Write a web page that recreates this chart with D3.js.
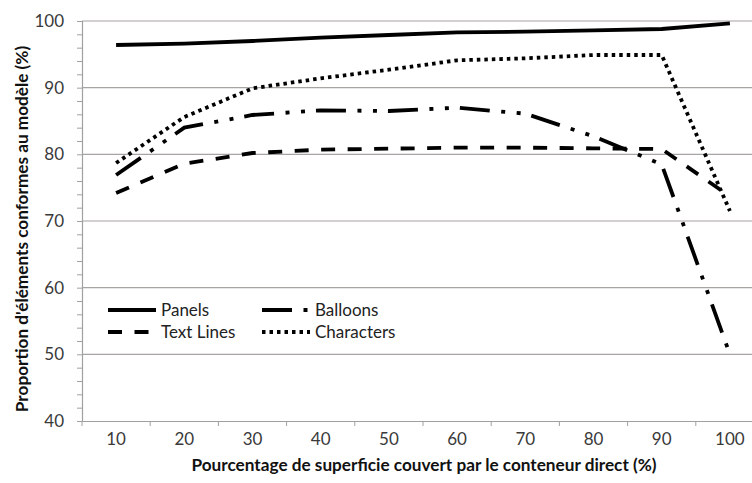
<!DOCTYPE html>
<html>
<head>
<meta charset="utf-8">
<script src="https://cdn.jsdelivr.net/npm/d3@7"></script>
<style>
  body { margin: 0; background: #fff; }
  svg { display: block; font-family: Lato, "Open Sans", sans-serif; }
</style>
</head>
<body>
<div id="chart"></div>
<script>
const categories = ['10', '20', '30', '40', '50', '60', '70', '80', '90', '100']
const yTicks = [40, 50, 60, 70, 80, 90, 100]

const panels = [96.4, 96.6, 97.0, 97.5, 97.9, 98.3, 98.4, 98.6, 98.8, 99.65]
const textLines = [74.2, 78.6, 80.2, 80.7, 80.85, 81.0, 81.0, 80.9, 80.8, 73.7]
const balloons = [76.9, 84.0, 85.9, 86.6, 86.5, 87.0, 86.1, 82.7, 78.5, 50.0]
const characters = [78.7, 85.6, 89.9, 91.4, 92.7, 94.1, 94.4, 94.9, 94.9, 71.5]

const series = [
  { name: 'Panels', values: panels, dash: null },
  { name: 'Text Lines', values: textLines, dash: '14,12.5' },
  { name: 'Balloons', values: balloons, dash: '30,11.5,4,11.5,4,11' },
  { name: 'Characters', values: characters, dash: '3.5,4' }
]

let width = 752
let height = 483
let margins = { top: 21, right: -12, bottom: 62, left: 82 }

let svg = d3.select('#chart').append('svg')
  .attr('width', width)
  .attr('height', height)

let x = d3.scalePoint()
  .domain(categories)
  .range([margins.left, width - margins.right])
  .padding(0.5)

let xBand = d3.scaleBand()
  .domain(categories)
  .range([margins.left, width - margins.right])

let y = d3.scaleLinear()
  .domain([40, 100])
  .range([height - margins.bottom, margins.top])

// gridlines
svg.append('g')
  .selectAll('line')
  .data(yTicks.filter(d => d > 40))
  .enter().append('line')
  .attr('x1', margins.left)
  .attr('x2', width)
  .attr('y1', d => y(d))
  .attr('y2', d => y(d))
  .style('stroke', '#a7a4a2')
  .style('stroke-width', 1.2)

// y axis with minor ticks every 2
let yAxis = svg.append('g')
  .attr('transform', 'translate(' + margins.left + ',0)')
  .call(d3.axisLeft(y).tickValues(d3.range(40, 101, 2)).tickSize(5).tickFormat(''))
yAxis.select('.domain').style('stroke', '#a0a0a0').style('stroke-width', 1.2)
yAxis.selectAll('.tick line').style('stroke', '#a0a0a0')

svg.append('g')
  .selectAll('text')
  .data(yTicks)
  .enter().append('text')
  .attr('x', 64)
  .attr('y', d => y(d))
  .attr('dy', '0.35em')
  .attr('text-anchor', 'end')
  .style('font-size', '17px')
  .style('fill', '#3a3a3a')
  .text(d => d)

// x axis
let xAxis = svg.append('g')
  .attr('transform', 'translate(0,' + y(40) + ')')
  .call(d3.axisBottom(xBand).tickSize(0).tickFormat(''))
xAxis.select('.domain').style('stroke', '#a0a0a0').style('stroke-width', 1.2)

svg.append('g')
  .selectAll('line')
  .data(categories)
  .enter().append('line')
  .attr('x1', d => xBand(d))
  .attr('x2', d => xBand(d))
  .attr('y1', y(40))
  .attr('y2', y(40) + 5)
  .style('stroke', '#a0a0a0')

svg.append('g')
  .selectAll('text')
  .data(categories)
  .enter().append('text')
  .attr('x', d => x(d))
  .attr('y', 439)
  .attr('dy', '0.35em')
  .attr('text-anchor', 'middle')
  .style('font-size', '17px')
  .style('fill', '#3a3a3a')
  .text(d => d)

// axis titles
svg.append('text')
  .attr('x', 424)
  .attr('y', 465)
  .attr('dy', '0.35em')
  .attr('text-anchor', 'middle')
  .style('font-size', '17.2px')
  .style('font-weight', 'bold')
  .style('fill', '#111')
  .text('Pourcentage de superficie couvert par le conteneur direct (%)')

svg.append('text')
  .attr('transform', 'translate(22,229) rotate(-90)')
  .attr('dy', '0.35em')
  .attr('text-anchor', 'middle')
  .style('font-size', '17.2px')
  .style('font-weight', 'bold')
  .style('fill', '#111')
  .text("Proportion d'éléments conformes au modèle (%)")

// series lines
let lineGen = d3.line()
  .x((d, i) => x(categories[i]))
  .y(d => y(d))

svg.append('g')
  .selectAll('path')
  .data(series)
  .enter().append('path')
  .attr('d', d => lineGen(d.values))
  .style('fill', 'none')
  .style('stroke', '#000')
  .style('stroke-width', 3.8)
  .style('stroke-dasharray', d => d.dash)

// legend
let legendPos = [
  { lx: 108, ly: 310 },
  { lx: 108, ly: 332 },
  { lx: 262, ly: 310 },
  { lx: 262, ly: 332 }
]

let legend = svg.append('g')
  .selectAll('g')
  .data(series)
  .enter().append('g')
  .attr('transform', (d, i) => 'translate(' + legendPos[i].lx + ',' + legendPos[i].ly + ')')

legend.append('line')
  .attr('x1', 0)
  .attr('x2', 48)
  .style('stroke', '#000')
  .style('stroke-width', 3.8)
  .style('stroke-dasharray', d => d.dash)

legend.append('text')
  .attr('x', 53)
  .attr('dy', '0.35em')
  .style('font-size', '17px')
  .style('fill', '#222')
  .text(d => d.name)
</script>
</body>
</html>
